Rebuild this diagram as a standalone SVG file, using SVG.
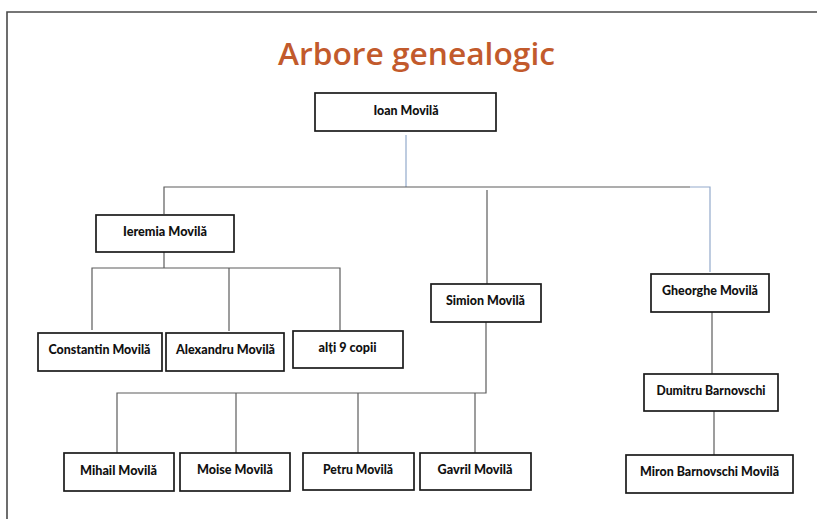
<svg xmlns="http://www.w3.org/2000/svg" width="817" height="519" viewBox="0 0 817 519">
<style>
.box{fill:#fff;stroke:#1a1a1a;stroke-width:1.7}
.lbl{font-family:Lato,"Open Sans","Liberation Sans",sans-serif;font-weight:900;font-size:13px;fill:#111;text-anchor:middle}
.ln{fill:none;stroke:#5c5c5c;stroke-width:1.2}
.lb{fill:none;stroke:#93aacb;stroke-width:1.2}
.frame{fill:none;stroke:#4a4a4a;stroke-width:1.6}
.title{font-family:"Open Sans","Noto Sans",sans-serif;font-weight:600;font-size:31px;fill:#C25A2C;text-anchor:middle}
</style>
<rect width="817" height="519" fill="#fff"/>
<path class="frame" d="M7,519 V12 H817"/>
<text class="title" x="416.5" y="65" textLength="277" lengthAdjust="spacingAndGlyphs">Arbore genealogic</text>
<g id="connectors">
<path class="lb" d="M406,135 V187"/>
<path class="ln" d="M164,214 V187 H690"/>
<path class="lb" d="M690,187 H710 V272"/>
<path class="ln" d="M487,190 V284"/>
<path class="ln" d="M164,252 V268"/>
<path class="ln" d="M92,330 V268 H340 V330"/>
<path class="ln" d="M229,268 V331"/>
<path class="ln" d="M486,322 V393 H117 V453"/>
<path class="ln" d="M236,393 V453"/>
<path class="ln" d="M358,393 V453"/>
<path class="ln" d="M475,393 V453"/>
<path class="ln" d="M712,312 V374"/>
<path class="ln" d="M714,411 V455"/>
</g>
<g id="ioan"><rect class="box" x="315" y="93" width="181" height="38"/><text class="lbl" x="406" y="114.5" textLength="65" lengthAdjust="spacingAndGlyphs">Ioan Movilă</text></g>
<g id="ieremia"><rect class="box" x="96" y="215" width="138" height="37"/><text class="lbl" x="165" y="236" textLength="84" lengthAdjust="spacingAndGlyphs">Ieremia Movilă</text></g>
<g id="constantin"><rect class="box" x="38" y="333" width="124" height="38"/><text class="lbl" x="99.5" y="353.5" textLength="102" lengthAdjust="spacingAndGlyphs">Constantin Movilă</text></g>
<g id="alexandru"><rect class="box" x="166" y="333" width="118" height="38"/><text class="lbl" x="225.5" y="353.5" textLength="99" lengthAdjust="spacingAndGlyphs">Alexandru Movilă</text></g>
<g id="alti"><rect class="box" x="293" y="331" width="110" height="37"/><text class="lbl" x="347.5" y="352" textLength="58" lengthAdjust="spacingAndGlyphs">alți 9 copii</text></g>
<g id="simion"><rect class="box" x="431" y="284" width="110" height="38"/><text class="lbl" x="485.5" y="305" textLength="79" lengthAdjust="spacingAndGlyphs">Simion Movilă</text></g>
<g id="gheorghe"><rect class="box" x="651" y="274" width="118" height="38"/><text class="lbl" x="710" y="295" textLength="96" lengthAdjust="spacingAndGlyphs">Gheorghe Movilă</text></g>
<g id="dumitru"><rect class="box" x="644" y="374" width="134" height="37"/><text class="lbl" x="711" y="395" textLength="109" lengthAdjust="spacingAndGlyphs">Dumitru Barnovschi</text></g>
<g id="miron"><rect class="box" x="626" y="455" width="167" height="38"/><text class="lbl" x="709.5" y="476" textLength="139" lengthAdjust="spacingAndGlyphs">Miron Barnovschi Movilă</text></g>
<g id="mihail"><rect class="box" x="64" y="453" width="110" height="38"/><text class="lbl" x="118.5" y="475" textLength="77" lengthAdjust="spacingAndGlyphs">Mihail Movilă</text></g>
<g id="moise"><rect class="box" x="180" y="453" width="110" height="38"/><text class="lbl" x="235" y="474" textLength="76" lengthAdjust="spacingAndGlyphs">Moise Movilă</text></g>
<g id="petru"><rect class="box" x="303" y="453" width="111" height="37"/><text class="lbl" x="358" y="474" textLength="70" lengthAdjust="spacingAndGlyphs">Petru Movilă</text></g>
<g id="gavril"><rect class="box" x="420" y="453" width="111" height="37"/><text class="lbl" x="475" y="474" textLength="75" lengthAdjust="spacingAndGlyphs">Gavril Movilă</text></g>
</svg>
